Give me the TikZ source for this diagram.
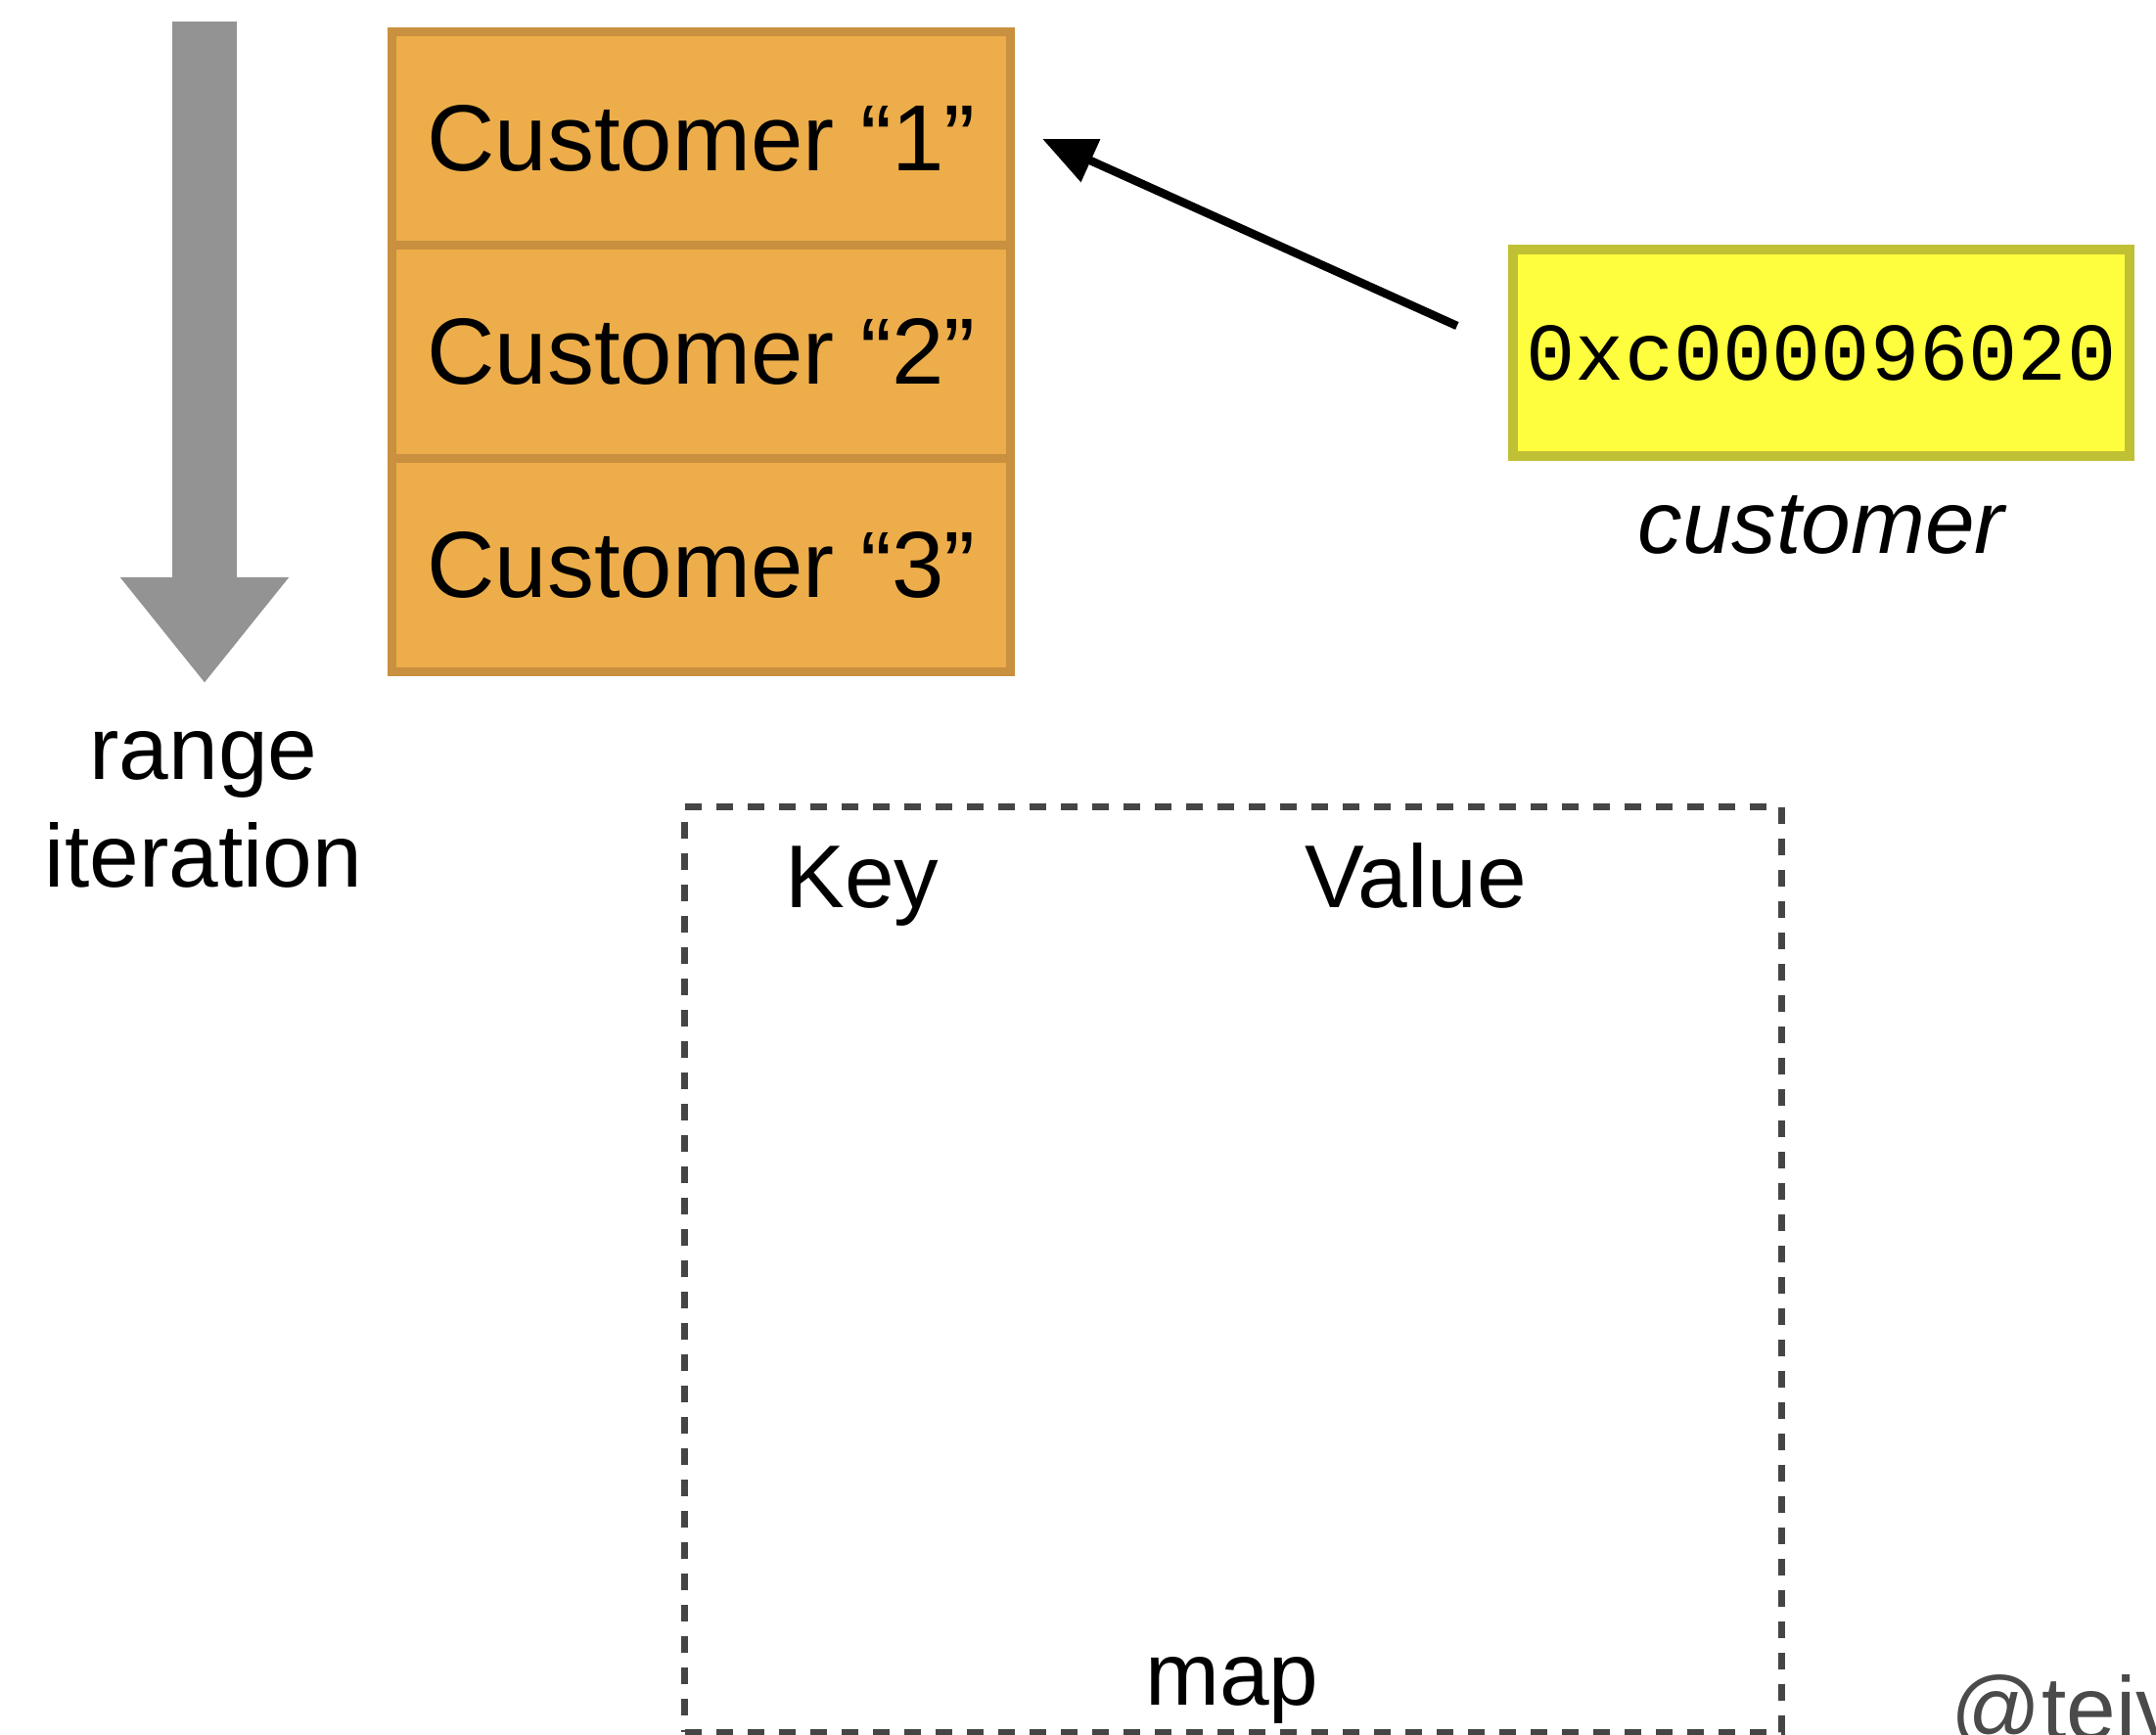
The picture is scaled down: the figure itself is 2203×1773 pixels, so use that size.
\documentclass[tikz,border=0pt]{standalone}
\usepackage{fontspec}
\setmainfont{Liberation Sans}
\setmonofont{Liberation Mono}
\usetikzlibrary{arrows.meta,positioning}

\definecolor{cellfill}{HTML}{ECAD4A}
\definecolor{celledge}{HTML}{C8903F}
\definecolor{addrfill}{HTML}{FEFE3E}
\definecolor{addredge}{HTML}{C0C035}
\definecolor{itergray}{HTML}{939393}
\definecolor{mapgray}{HTML}{454545}
\definecolor{taggray}{HTML}{4A4A4A}

\newcommand{\cellfont}{\fontsize{27.3pt}{32pt}\selectfont}
\newcommand{\labelfont}{\fontsize{25.9pt}{31pt}\selectfont}
\newcommand{\addrfont}{\fontsize{23.8pt}{28pt}\selectfont\ttfamily}

\begin{document}
\begin{tikzpicture}[x=0.01cm,y=-0.01cm]
% Styles
\tikzstyle{cell}=[draw=celledge,fill=cellfill,line width=0.09cm,outer sep=0pt,inner sep=0pt,minimum width=6.32cm,minimum height=2.18cm,font=\cellfont]
\tikzstyle{addr}=[draw=addredge,fill=addrfill,line width=0.1cm,inner sep=0pt,minimum width=6.3cm,minimum height=2.11cm,font=\addrfont]
\tikzstyle{pointer}=[line width=0.085cm,-{Triangle[length=0.54cm,width=0.46cm]}]
\tikzstyle{iter}=[draw=itergray,line width=0.66cm,-{Triangle[length=1.08cm,width=1.65cm]}]
\tikzstyle{mapbox}=[draw=mapgray,line width=0.065cm,dash pattern=on 0.17cm off 0.15cm,inner sep=0pt,minimum width=11.2cm,minimum height=9.45cm]
\tikzstyle{caption}=[anchor=base,inner sep=0pt,font=\labelfont]

% Page
\clip (0,0) rectangle (2203,1773);

% Range iteration arrow
\coordinate (itertop) at (209,22);	% Top of the shaft.
\coordinate (iterend) at (209,698);	% Tip of the head.
\draw[iter] (itertop) -- (iterend);
\node[caption,align=center] (iterlabel) at (208,906) {range\\iteration};

% Slice of customers
\node[cell] (cust1) at (716.5,141.5) {Customer “1”};
\node[cell,below=0pt of cust1] (cust2) {Customer “2”};
\node[cell,below=0pt of cust2] (cust3) {Customer “3”};

% Loop variable
\node[addr] (addr) at (1861,360.5) {0xc000096020};
\node[caption,font=\labelfont\itshape] (addrname) at (1861,565) {customer};
\draw[pointer] ([shift={(-52,-27.5)}]addr.west) -- ([shift={(32.5,0.5)}]cust1.east);

% Map
\node[mapbox] (map) at (1260,1297.5) {};
\node[caption] (keyhead) at (881,927) {Key};
\node[caption] (valhead) at (1447,927) {Value};
\node[caption] (mapname) at (1259,1742) {map};

% Handle
\node[caption,anchor=base west,text=taggray] (handle) at (1993,1777) {@teiv};
\end{tikzpicture}
\end{document}
